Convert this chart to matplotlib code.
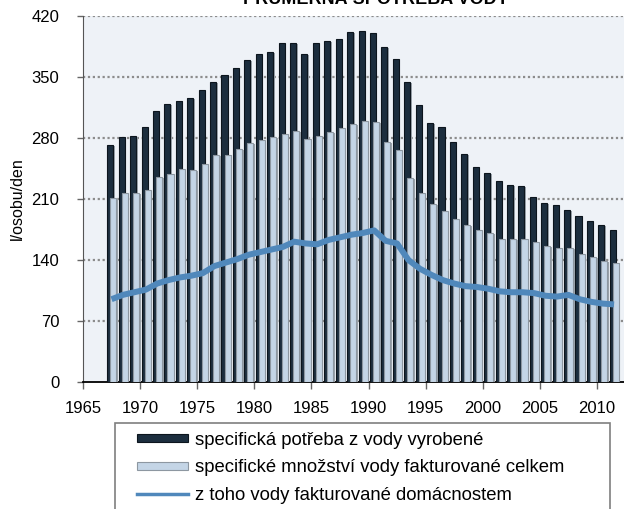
import numpy as np
import matplotlib
matplotlib.use("Agg")
import matplotlib.pyplot as plt
from matplotlib.patches import Rectangle, Patch
from matplotlib.lines import Line2D

plt.rcParams['font.family'] = ['Liberation Sans', 'DejaVu Sans']

# data (l/osobu/den)
years = list(range(1967, 2012))
vyrobena = [272, 281, 282, 293, 311, 319, 323, 326, 335, 344,
            352, 360, 369, 376, 379, 389, 389, 376, 389, 391,
            394, 402, 403, 400, 384, 371, 344, 318, 297, 293,
            275, 262, 247, 240, 231, 226, 225, 212, 205, 203,
            197, 191, 185, 180, 175]
fakturovana = [211, 217, 217, 220, 235, 239, 244, 243, 250, 260,
               261, 267, 274, 278, 281, 285, 288, 279, 282, 287,
               291, 296, 299, 298, 275, 266, 234, 217, 204, 196,
               187, 180, 174, 171, 164, 164, 164, 161, 156, 154,
               154, 147, 143, 139, 137]
domacnosti = [95, 100, 103, 106, 113, 117, 120, 122, 125, 133,
              137, 141, 146, 149, 152, 155, 161, 159, 158, 163,
              166, 169, 171, 174, 162, 159, 140, 130, 123, 117,
              113, 110, 109, 107, 104, 103, 103, 102, 99, 98,
              100, 95, 92, 90, 89]
yticks = [0, 70, 140, 210, 280, 350, 420]
xticks = list(range(1965, 2011, 5))

labels = ['specifická potřeba z vody vyrobené',
          'specifické množství vody fakturované celkem',
          'z toho vody fakturované domácnostem']

c_dark = '#1c2e3e'
c_light = '#c4d5e6'
c_line = '#5088bb'

W, H = 624, 509
fig = plt.figure(figsize=(W / 100, H / 100), dpi=100)
ax = fig.add_axes([83 / W, (H - 382) / H, (W - 83) / W, (382 - 16) / H])
ax.set_facecolor('#eef2f7')

x = np.array(years, dtype=float)
bw = 0.53
sh = 0.13  # shadow offset

# gridlines behind bars
for yv in yticks[1:]:
    ax.axhline(yv, color='#8c8c8c', lw=1.6, ls=(0, (1, 1.2)), zorder=1)

ax.bar(x + 0.39 + sh, np.array(vyrobena) - 1, width=bw, color='#9aa3ab',
       lw=0, zorder=2)
ax.bar(x + 0.39, vyrobena, width=bw, color=c_dark, edgecolor='#0c151d',
       lw=0.8, zorder=3)
ax.bar(x + 0.66 + sh, np.array(fakturovana) - 1, width=bw, color='#9aa3ab',
       lw=0, zorder=4)
ax.bar(x + 0.66, fakturovana, width=bw, color=c_light, edgecolor='#8d97a1',
       lw=0.8, zorder=5)
ax.plot(x + 0.5, domacnosti, color=c_line, lw=4.3, solid_capstyle='butt',
        solid_joinstyle='round', zorder=6)

ax.set_xlim(1965, 1965 + (W - 83) / 11.42)
ax.set_ylim(0, 420)
ax.set_yticks(yticks)
ax.set_xticks(xticks)
ax.tick_params(axis='y', direction='out', length=4, width=1, color='#666666',
               pad=13, labelsize=12)
ax.tick_params(axis='x', direction='out', length=5, width=1, color='#666666',
               pad=9, labelsize=12)
for s in ['top', 'right']:
    ax.spines[s].set_visible(False)
ax.spines['bottom'].set_linewidth(1.3)
ax.spines['left'].set_linewidth(0.8)
ax.spines['left'].set_color('#555555')
ax.set_ylabel('l/osobu/den', fontsize=11.5, labelpad=5)

fig.text(376 / W, 1 - 4 / H, 'PRŮMĚRNÁ SPOTŘEBA VODY', ha='center',
         va='baseline', fontsize=13, fontweight='bold')

# legend box
fig.patches.append(Rectangle((115 / W, -0.1), (610 - 115) / W, 0.1 + (H - 423) / H,
                             transform=fig.transFigure, facecolor='white',
                             edgecolor='#7f7f7f', lw=1.2, zorder=0))
handles = [Patch(facecolor=c_dark, edgecolor='#0c151d', lw=0.8),
           Patch(facecolor=c_light, edgecolor='#8d97a1', lw=0.8),
           Line2D([0], [0], color=c_line, lw=2.5)]
fig.legend(handles, labels, loc='upper left',
           bbox_to_anchor=(137 / W, 1 - 432 / H), frameon=False,
           fontsize=13.3, handlelength=2.76, handleheight=0.28,
           handletextpad=0.38, labelspacing=0.56, borderpad=0,
           borderaxespad=0)

fig.savefig('out.png', dpi=100)
